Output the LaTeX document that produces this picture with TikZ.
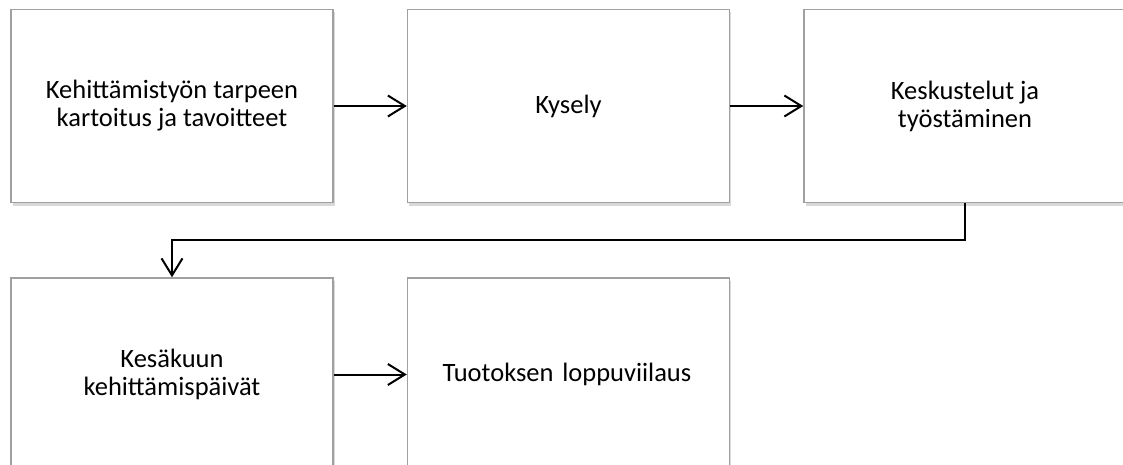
\documentclass[tikz,border=0pt]{standalone}
\usepackage{fontspec}
\setmainfont{Carlito}
\usepackage{xcolor}
\definecolor{boxgray}{RGB}{160,160,160}
\usepackage{tikz}
\usetikzlibrary{arrows.meta, positioning, shadows}

\begin{document}
\begin{tikzpicture}[x=1pt, y=-1pt,
  stepbox/.style={draw=boxgray, line width=1.5pt, fill=white,
    minimum width=322pt, minimum height=193pt, align=center,
    font=\fontsize{26.5}{28}\selectfont,
    drop shadow={shadow xshift=1.5pt, shadow yshift=-3pt, opacity=0.3}},
  flow/.style={line width=2pt, -{Straight Barb[length=17pt, width=21pt, line width=2pt]}}]

\useasboundingbox (0,0) rectangle (1123,465);

% === Top row ===
\node[stepbox] (kartoitus) at (172,106) {Kehittämistyön tarpeen\\kartoitus ja tavoitteet};
\node[stepbox, right=73pt of kartoitus] (kysely) {Kysely};
\node[stepbox, right=73pt of kysely] (keskustelut) {Keskustelut ja\\työstäminen};

% === Bottom row ===
\node[stepbox, below=74pt of kartoitus] (kesakuu) {Kesäkuun\\kehittämispäivät};
\node[stepbox, right=73pt of kesakuu, text width=300pt, align=left] (viilaus) {\hspace*{24pt}Tuotoksen loppuviilaus};

% Arrows
\draw[flow] (kartoitus) -- (kysely);
\draw[flow] (kysely) -- (keskustelut);
\draw[flow] (keskustelut.south) -- ++(0,37) -| (kesakuu.north);
\draw[flow] (kesakuu) -- (viilaus);

\end{tikzpicture}
\end{document}
